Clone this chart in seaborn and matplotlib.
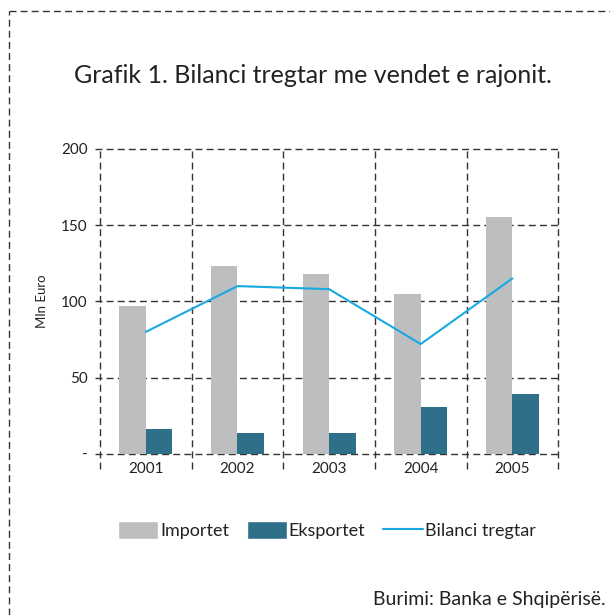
import pandas as pd
import seaborn as sns
import matplotlib.pyplot as plt
from matplotlib.lines import Line2D
from matplotlib.patches import Patch

years = ['2001', '2002', '2003', '2004', '2005']
importet = [97, 123, 118, 105, 155]
eksportet = [16, 14, 14, 31, 39]
bilanci = [80, 110, 108, 72, 115]

sns.set_style('white')
plt.rcParams['font.family'] = ['Lato', 'DejaVu Sans']

df = pd.DataFrame({'Viti': years * 2,
                   'Vlera': importet + eksportet,
                   'Seria': ['Importet'] * 5 + ['Eksportet'] * 5})
df_line = pd.DataFrame({'Viti': years, 'Bilanci': bilanci})

grey = '#bdbec0'
teal = '#2e6f8a'
blue = '#17a9e1'
dash = (0, (5, 3))
txt = '#222222'

fig = plt.figure(figsize=(6.1, 6.15), dpi=100)
ax = fig.add_axes([0.164, 0.262, 0.751, 0.496])

sns.barplot(data=df, x='Viti', y='Vlera', hue='Seria', palette=[grey, teal],
            width=0.58, gap=0, saturation=1, errorbar=None, legend=False,
            linewidth=0, ax=ax)
sns.pointplot(data=df_line, x='Viti', y='Bilanci', color=blue, marker='',
              linewidth=1.5, errorbar=None, ax=ax)

ax.set_xlim(-0.5, 4.5)
ax.set_ylim(0, 200)
ax.set_yticks([0, 50, 100, 150, 200])
ax.set_yticklabels(['-', '50', '100', '150', '200'])
ax.set_xlabel('')
ax.set_ylabel('Mln Euro', fontsize=9.5, labelpad=9, color=txt)
ax.tick_params(axis='x', length=0, labelsize=11, pad=6, labelcolor=txt)
ax.tick_params(axis='y', length=0, labelsize=11, pad=9, labelcolor=txt)

# dashed grid, boundaries between years extend below the axis
for y in [0, 50, 100, 150, 200]:
    ax.axhline(y, xmin=-0.012, xmax=1, color='#333333', lw=1, ls=dash,
               clip_on=False, zorder=0)
for x in [-0.5, 0.5, 1.5, 2.5, 3.5, 4.5]:
    ax.axvline(x, ymin=-0.05, ymax=1, color='#333333', lw=1, ls=dash,
               clip_on=False, zorder=0)
for s in ax.spines.values():
    s.set_visible(False)

handles = [Patch(facecolor=grey, label='Importet'),
           Patch(facecolor=teal, label='Eksportet'),
           Line2D([0], [0], color=blue, lw=1.5, label='Bilanci tregtar')]
fig.legend(handles=handles, loc='center', bbox_to_anchor=(0.536, 0.138), ncol=3,
           frameon=False, fontsize=13, handlelength=2.2, handleheight=1.1,
           handletextpad=0.1, columnspacing=1.0, labelcolor=txt)

fig.text(0.513, 0.878, 'Grafik 1. Bilanci tregtar me vendet e rajonit.',
         ha='center', va='center', fontsize=18, color=txt)
fig.text(0.993, 0.025, 'Burimi: Banka e Shqipërisë.', ha='right', va='center',
         fontsize=14, color=txt)

# dashed frame round the figure
fig.add_artist(Line2D([0.015, 1.0], [0.982, 0.982], color='#333333', lw=1, ls=dash))
fig.add_artist(Line2D([0.015, 0.015], [0.0, 0.982], color='#333333', lw=1, ls=dash))

fig.savefig('out.png', dpi=100)
